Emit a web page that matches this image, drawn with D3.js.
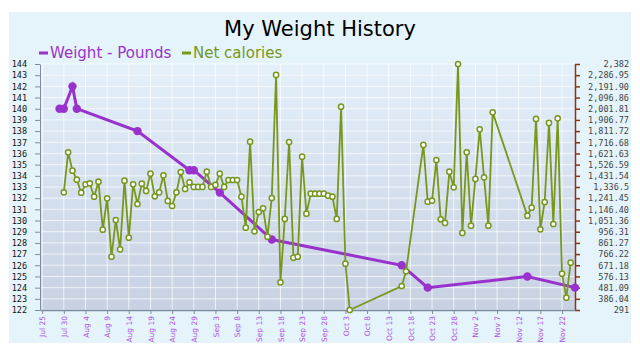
<!DOCTYPE html>
<html lang="en">
<head>
<meta charset="UTF-8">
<title>My Weight History</title>
<script src="https://d3js.org/d3.v7.min.js"></script>
<style>
  body { margin: 0; background: #fff; }
  svg { display: block; }
  .title { font: 21px "DejaVu Sans", Verdana, sans-serif; fill: #000; }
  .legend { font: 15px "DejaVu Sans", Verdana, sans-serif; }
  .yl text, .yr text { font: 8.5px "DejaVu Sans Mono", monospace; }
  .xa text { font: 7.5px "DejaVu Sans", Verdana, sans-serif; fill: #ac4fe4; }
</style>
</head>
<body>
<div id="chart"></div>
<script>
// weight readings (pounds)
const weightDates = ["2012-07-29", "2012-07-30", "2012-08-01", "2012-08-02", "2012-08-16",
  "2012-08-28", "2012-08-29", "2012-09-04", "2012-09-16", "2012-10-16", "2012-10-22",
  "2012-11-14", "2012-11-25"];
const weightValues = [140, 140, 142, 140, 138, 134.5, 134.5, 132.5, 128.3, 126, 124, 125, 124];

// net calories per day
const calorieDates = [
  "2012-07-30", "2012-07-31", "2012-08-01", "2012-08-02", "2012-08-03", "2012-08-04", "2012-08-05",
  "2012-08-06", "2012-08-07", "2012-08-08", "2012-08-09", "2012-08-10", "2012-08-11", "2012-08-12",
  "2012-08-13", "2012-08-14", "2012-08-15", "2012-08-16", "2012-08-17", "2012-08-18", "2012-08-19",
  "2012-08-20", "2012-08-21", "2012-08-22", "2012-08-23", "2012-08-24", "2012-08-25", "2012-08-26",
  "2012-08-27", "2012-08-28", "2012-08-29", "2012-08-30", "2012-08-31", "2012-09-01", "2012-09-02",
  "2012-09-03", "2012-09-04", "2012-09-05", "2012-09-06", "2012-09-07", "2012-09-08", "2012-09-09",
  "2012-09-10", "2012-09-11", "2012-09-12", "2012-09-13", "2012-09-14", "2012-09-15", "2012-09-16",
  "2012-09-17", "2012-09-18", "2012-09-19", "2012-09-20", "2012-09-21", "2012-09-22", "2012-09-23",
  "2012-09-24", "2012-09-25", "2012-09-26", "2012-09-27", "2012-09-28", "2012-09-29", "2012-09-30",
  "2012-10-01", "2012-10-02", "2012-10-03", "2012-10-04",
  "2012-10-16", "2012-10-17",
  "2012-10-21", "2012-10-22", "2012-10-23", "2012-10-24", "2012-10-25", "2012-10-26", "2012-10-27",
  "2012-10-28", "2012-10-29", "2012-10-30", "2012-10-31", "2012-11-01", "2012-11-02", "2012-11-03",
  "2012-11-04", "2012-11-05", "2012-11-06",
  "2012-11-14", "2012-11-15", "2012-11-16", "2012-11-17", "2012-11-18", "2012-11-19", "2012-11-20",
  "2012-11-21", "2012-11-22", "2012-11-23", "2012-11-24"];
const calorieValues = [
  1291, 1631, 1475, 1399, 1288, 1359, 1368, 1254, 1382, 974,
  1240, 744, 1056, 807, 1390, 906, 1359, 1192, 1365, 1303,
  1450, 1257, 1291, 1436, 1218, 1175, 1291, 1464, 1320, 1376,
  1337, 1337, 1337, 1467, 1337, 1354, 1450, 1337, 1396, 1396,
  1396, 1254, 991, 1722, 960, 1124, 1155, 914, 1243, 2289,
  526, 1065, 1719, 736, 744, 1594, 1110, 1280, 1280, 1280,
  1280, 1263, 1254, 1065, 2019, 685, 291,
  495, 620,
  1694, 1212, 1220, 1566, 1062, 1031, 1467, 1334, 2382, 946, 1631, 1008, 1405, 1827, 1419, 1008, 1971,
  1093, 1161, 1915, 977, 1209, 1881, 1022, 1920, 600, 396, 693];

// axis labels
const xTickLabels = ["Jul 25", "Jul 30", "Aug 4", "Aug 9", "Aug 14", "Aug 19", "Aug 24", "Aug 29",
  "Sep 3", "Sep 8", "Sep 13", "Sep 18", "Sep 23", "Sep 28", "Oct 3", "Oct 8", "Oct 13", "Oct 18",
  "Oct 23", "Oct 28", "Nov 2", "Nov 7", "Nov 12", "Nov 17", "Nov 22"];
const leftTicks = [122, 123, 124, 125, 126, 127, 128, 129, 130, 131, 132, 133, 134, 135, 136, 137,
  138, 139, 140, 141, 142, 143, 144];
const rightTickLabels = ["291", "386.04", "481.09", "576.13", "671.18", "766.22", "861.27", "956.31",
  "1,051.36", "1,146.40", "1,241.45", "1,336.5", "1,431.54", "1,526.59", "1,621.63", "1,716.68",
  "1,811.72", "1,906.77", "2,001.81", "2,096.86", "2,191.90", "2,286.95", "2,382"];

const purple = "#9932cc";
const green = "#77971d";

const width = 640, height = 351;
const margin = { top: 64, right: 65, bottom: 41, left: 40 };

const parseDay = d3.utcParse("%Y-%m-%d");
const parseTick = d3.utcParse("%b %d %Y");

const weight = weightDates.map((d, i) => ({ date: parseDay(d), value: weightValues[i] }));
const calories = calorieDates.map((d, i) => ({ date: parseDay(d), value: calorieValues[i] }));
const xTicks = xTickLabels.map(s => parseTick(s + " 2012"));
const rightTicks = rightTickLabels.map(s => +s.replace(/,/g, ""));

const x = d3.scaleUtc()
  .domain([new Date(Date.UTC(2012, 6, 24, 12)), new Date(Date.UTC(2012, 10, 25))])
  .range([margin.left, width - margin.right]);
const yL = d3.scaleLinear().domain([122, 144]).range([height - margin.bottom, margin.top]);
const yR = d3.scaleLinear().domain([291, 2382]).range([height - margin.bottom, margin.top]);

const svg = d3.select("#chart").append("svg")
  .attr("width", width)
  .attr("height", height);

const defs = svg.append("defs");
const grad = defs.append("linearGradient").attr("id", "plotBg")
  .attr("x1", 0).attr("y1", 0).attr("x2", 0).attr("y2", 1);
grad.append("stop").attr("offset", "0%").attr("stop-color", "#e3f0fa");
grad.append("stop").attr("offset", "100%").attr("stop-color", "#c7d1e2");

// page background
svg.append("rect")
  .attr("x", 9).attr("y", 12)
  .attr("width", 622).attr("height", 331)
  .attr("fill", "#e5f4fa");

// plot area
svg.append("rect")
  .attr("x", margin.left).attr("y", margin.top)
  .attr("width", width - margin.left - margin.right)
  .attr("height", height - margin.top - margin.bottom)
  .attr("fill", "url(#plotBg)");

// grid
svg.append("g").selectAll("line").data(leftTicks).join("line")
  .attr("x1", margin.left).attr("x2", width - margin.right)
  .attr("y1", d => yL(d)).attr("y2", d => yL(d))
  .attr("stroke", "#fff").attr("stroke-opacity", 0.7);
svg.append("g").selectAll("line").data(xTicks).join("line")
  .attr("x1", d => x(d)).attr("x2", d => x(d))
  .attr("y1", margin.top).attr("y2", height - margin.bottom)
  .attr("stroke", "#fff").attr("stroke-opacity", 0.7);

// axes
const yLeftAxis = svg.append("g").attr("class", "yl")
  .attr("transform", `translate(${margin.left},0)`)
  .call(d3.axisLeft(yL).tickValues(leftTicks).tickSize(5).tickPadding(8).tickSizeOuter(0));
yLeftAxis.selectAll("path, line").attr("stroke", "#7d8d9f");
yLeftAxis.selectAll("text").attr("fill", "#111");

const yRightAxis = svg.append("g").attr("class", "yr")
  .attr("transform", `translate(${width - margin.right},0)`)
  .call(d3.axisRight(yR).tickValues(rightTicks).tickFormat((d, i) => rightTickLabels[i])
    .tickSize(5).tickSizeOuter(0));
yRightAxis.selectAll("path, line").attr("stroke", "#8a3414").attr("stroke-width", 1.5);
yRightAxis.selectAll("text").attr("fill", "#444").attr("text-anchor", "end").attr("x", 54);

const xAxis = svg.append("g").attr("class", "xa")
  .attr("transform", `translate(0,${height - margin.bottom})`)
  .call(d3.axisBottom(x).tickValues(xTicks).tickFormat((d, i) => xTickLabels[i])
    .tickSize(4).tickSizeOuter(0));
xAxis.selectAll("path, line").attr("stroke", "#7d8d9f");
xAxis.select(".domain").attr("stroke-width", 1.5);
xAxis.selectAll("text")
  .attr("transform", "rotate(-90)")
  .attr("text-anchor", "end")
  .attr("x", -6).attr("y", 0).attr("dy", "0.35em");

// weight series
svg.append("path")
  .datum(weight)
  .attr("fill", "none")
  .attr("stroke", purple)
  .attr("stroke-width", 3)
  .attr("d", d3.line().x(d => x(d.date)).y(d => yL(d.value)));
svg.append("g").selectAll("circle").data(weight).join("circle")
  .attr("cx", d => x(d.date)).attr("cy", d => yL(d.value))
  .attr("r", 4.2)
  .attr("fill", purple);

// calorie series
svg.append("path")
  .datum(calories)
  .attr("fill", "none")
  .attr("stroke", green)
  .attr("stroke-width", 1.8)
  .attr("d", d3.line().x(d => x(d.date)).y(d => yR(d.value)));
svg.append("g").selectAll("circle").data(calories).join("circle")
  .attr("cx", d => x(d.date)).attr("cy", d => yR(d.value))
  .attr("r", 2.6)
  .attr("fill", "#fff")
  .attr("stroke", green)
  .attr("stroke-width", 1.5);

// title
svg.append("text").attr("class", "title")
  .attr("x", 320).attr("y", 36)
  .attr("text-anchor", "middle")
  .text("My Weight History");

// legend
const legendItems = [
  { label: "Weight - Pounds", color: purple, x: 39 },
  { label: "Net calories", color: green, x: 182 }
];
const lg = svg.append("g").selectAll("g").data(legendItems).join("g")
  .attr("transform", d => `translate(${d.x},53)`);
lg.append("line")
  .attr("x1", 0).attr("x2", 9)
  .attr("stroke", d => d.color).attr("stroke-width", 3);
lg.append("text").attr("class", "legend")
  .attr("x", 11).attr("y", 5)
  .attr("fill", d => d.color)
  .text(d => d.label);
</script>
</body>
</html>
